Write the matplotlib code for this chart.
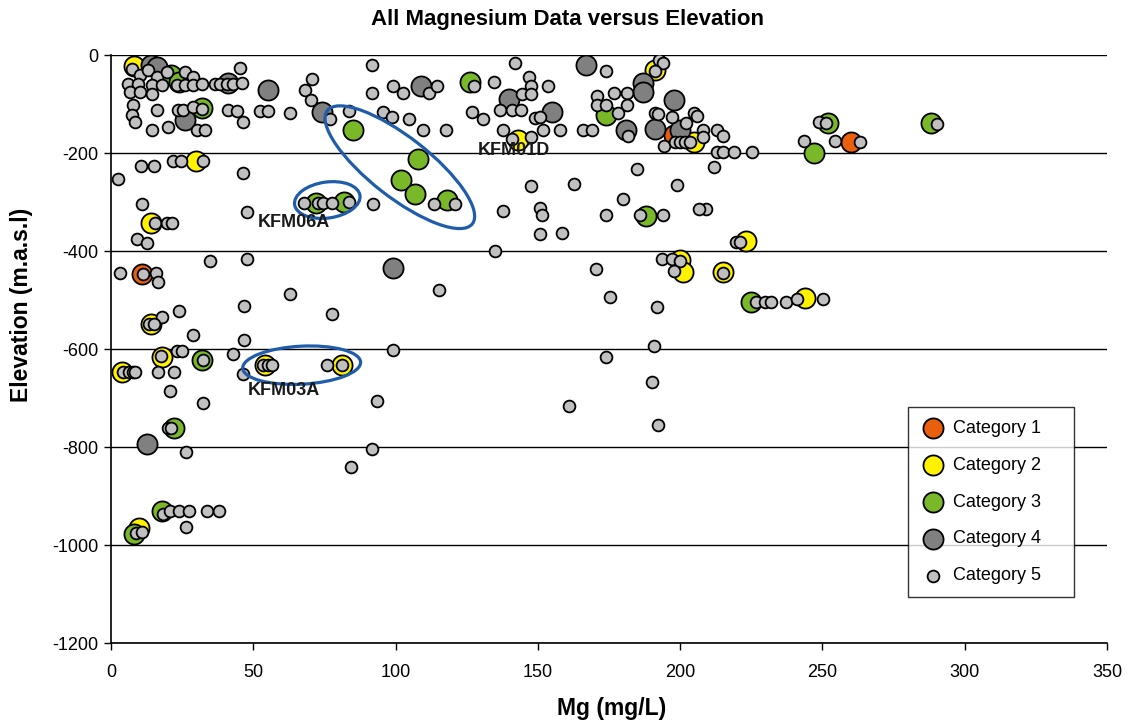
import matplotlib
matplotlib.use('Agg')
import matplotlib.pyplot as plt
from matplotlib.patches import Ellipse
from matplotlib.transforms import ScaledTranslation

plt.rcParams['font.family'] = ['Liberation Sans', 'DejaVu Sans']
plt.rcParams['axes.unicode_minus'] = False

# ---------------- data ----------------
categories = ['Category 1', 'Category 2', 'Category 3', 'Category 4', 'Category 5']

cat1_x = [11, 198, 260]
cat1_y = [-446, -163, -177]

cat2_x = [8, 4, 14, 14, 18, 30, 10, 54, 81, 143, 191, 205, 200, 201, 215, 223, 244]
cat2_y = [-22, -646, -342, -548, -616, -216, -966, -633, -633, -173, -31, -177, -418, -442, -442, -379, -495]

cat3_x = [21, 24, 32, 85, 108, 102, 107, 118, 72, 82, 126, 174, 188, 247, 252, 288, 225, 32, 22, 18, 8]
cat3_y = [-41, -55, -108, -154, -213, -255, -284, -295, -303, -299, -56, -122, -328, -199, -138, -138,
          -505, -622, -761, -931, -978]

cat4_x = [14, 16, 26, 41, 55, 74, 109, 140, 155, 167, 187, 187, 198, 181, 191, 200, 99, 12.5]
cat4_y = [-20, -24, -133, -58, -71, -116, -63, -90, -116, -20, -58, -75, -92, -153, -150, -153, -435, -793]

cat5_x = [
    # top-left cluster
    7.3, 10.2, 13.1, 16.1, 19.6, 26, 28.9, 6.1, 9.6, 14.3, 17.8, 23.1, 26, 28.9, 31.9, 36.5, 38.3, 40.7, 43,
    45.9, 45.3, 6.7, 10.2, 14.3, 7.8, 16.1, 23.6, 25.4, 28.9, 31.9, 41.2, 44.2, 7.3, 8.4, 14.3, 20.1, 30.1,
    33, 46.5, 52.4, 55.3, 62.9, 70.5, 68.2, 70.2, 77, 83.7,
    10.5, 15.2, 21.7, 24.6, 32.4, 2.6, 46.5,
    # top middle
    91.6, 142, 99, 111.7, 114.7, 91.8, 102.5, 127.5, 134.7, 146.9, 147.5, 153.7, 144.5, 147.5, 136.7, 140.8,
    144, 149, 150.7, 95.7, 98.8, 104.7, 127, 130.6, 109.7, 117.7, 137.8, 141, 147.6, 151.9, 157.8, 166, 169.1,
    113.6, 120.9, 92.2, 147.6, 162.8, 137.8, 150.7, 151.5,
    # top right
    173.9, 192.7, 194.1, 191.1, 170.9, 176.9, 181.2, 170.7, 173.9, 181.2, 178, 191.1, 192.3, 197, 204.8, 206,
    181.8, 202, 208.1, 207.9, 212.8, 215.2, 194.4, 198.2, 200, 201.7, 203.5, 212.8, 215.2, 218.9, 225.1,
    243.5, 254.4, 248.9, 251.2, 263.2, 290.4, 184.7, 212, 198.8, 179.8, 209.1, 185.9, 194.1, 173.9,
    # KFM06A area
    67.8, 72.8, 74.6, 77.5, 83.7, 47.7, 10.8,
    # lower left
    15.5, 19.6, 21.3, 9.2, 12.8, 34.8, 47.7, 3.2, 11.1, 15.8, 16.6, 62.9, 46.8, 77.8, 23.9, 17.8, 13.5, 15.2,
    28.7, 46.8, 23.1, 24.8, 17.5, 32.3, 43, 4.3, 6.3, 7.6, 8.6, 16.6, 22.1, 46.3, 53.5, 55.2, 56.6, 75.8, 81,
    20.7, 32.4,
    # middle lower
    150.7, 158.4, 206.8, 135.1, 115.4, 170.4, 175.2, 191.9, 219.5, 221.2, 193.6, 197, 199.8, 198, 214.9,
    226.6, 229.9, 232.1, 237.3, 241, 250.1, 99.1, 173.9, 190.8, 190.2, 93.6, 161, 192.3, 91.6, 84.2,
    # bottom left
    20.1, 21, 26.4, 18.4, 20.7, 23.9, 27.4, 33.6, 37.9, 26.4, 8.8, 10.8,
]
cat5_y = [
    -28, -41, -31, -45, -35, -35, -45, -59, -59, -62, -62, -62, -62, -62, -59, -59, -59, -59, -59,
    -58, -27, -76, -76, -79, -103, -113, -113, -113, -106, -110, -113, -114, -123, -137, -154, -147, -154,
    -154, -136, -114, -114, -119, -48, -71, -92, -131, -115,
    -227, -227, -216, -216, -216, -254, -240,
    -20, -17, -63, -77, -63, -77, -77, -63, -56, -44, -63, -63, -80, -80, -112, -112,
    -112, -129, -127, -116, -127, -131, -116, -131, -154, -154, -154, -171, -168, -154, -154, -154, -154,
    -304, -304, -304, -267, -264, -318, -313, -327,
    -32, -10, -17, -32, -84, -77, -77, -102, -102, -102, -119, -119, -120, -127, -119, -124,
    -165, -138, -154, -167, -154, -165, -186, -177, -177, -177, -177, -197, -197, -197, -197,
    -176, -176, -136, -138, -177, -141, -233, -229, -265, -294, -315, -327, -327, -327,
    -303, -303, -303, -303, -299, -320, -304,
    -342, -342, -342, -376, -384, -420, -417, -444, -446, -444, -463, -488, -512, -529, -522, -534, -548, -548,
    -571, -582, -604, -604, -614, -622, -610, -646, -646, -646, -646, -646, -646, -650, -633, -633, -633, -633, -633,
    -685, -710,
    -366, -363, -314, -399, -480, -437, -493, -515, -381, -381, -417, -417, -420, -441, -444,
    -505, -505, -505, -505, -498, -498, -603, -617, -593, -667, -706, -716, -755, -805, -840,
    -761, -761, -810, -936, -931, -931, -931, -931, -931, -963, -976, -973,
]

annot_labels = ['KFM01D', 'KFM06A', 'KFM03A']
annot_x = [129, 51.5, 48]
annot_y = [-194, -341, -684]

x_ticks = [0, 50, 100, 150, 200, 250, 300, 350]
y_ticks = [0, -200, -400, -600, -800, -1000, -1200]

# ---------------- figure ----------------
W, H = 1132, 722
fig = plt.figure(figsize=(W / 100, H / 100), dpi=100)
ax = fig.add_axes([111 / W, 1 - 643 / H, 996 / W, 588 / H])

colors = ['#EA5F0E', '#FFF200', '#79B829', '#808080', '#C0C0C0']
series = [(cat1_x, cat1_y), (cat2_x, cat2_y), (cat3_x, cat3_y), (cat4_x, cat4_y), (cat5_x, cat5_y)]
sizes = [210, 210, 210, 210, 72]
handles = []
for i, ((xs, ys), c, s, lab) in enumerate(zip(series, colors, sizes, categories)):
    h = ax.scatter(xs, ys, s=s, c=c, edgecolors='black', linewidths=1.3, zorder=3 + i, label=lab)
    handles.append(h)

ax.set_xlim(0, 350)
ax.set_ylim(-1200, 0)
ax.set_xticks(x_ticks)
ax.set_yticks(y_ticks)
ax.tick_params(axis='x', direction='out', length=5, width=1, labelsize=13, pad=10)
ax.tick_params(axis='y', direction='out', length=5, width=1, labelsize=13, pad=4)
ax.yaxis.grid(True, color='black', linewidth=1)
ax.set_axisbelow(True)
for sp in ['top', 'right']:
    ax.spines[sp].set_visible(False)
for sp in ['left', 'bottom']:
    ax.spines[sp].set_linewidth(1.2)
    ax.spines[sp].set_color('black')

# hand-drawn ellipses (pixel sized, centered in data coords)
ell_specs = [((101.5, -229), 184, 60, -38), ((76, -296), 66, 36, 8), ((67, -633), 118, 38, 3)]
for (cx, cy), w, h, ang in ell_specs:
    e = Ellipse((0, 0), w, h, angle=ang, fill=False, edgecolor='#1F5DAA', linewidth=2.3,
                transform=ScaledTranslation(cx, cy, ax.transData), zorder=20, clip_on=False)
    ax.add_artist(e)

for lab, xx, yy in zip(annot_labels, annot_x, annot_y):
    ax.text(xx, yy, lab, fontsize=13, fontweight='bold', color='#1a1a1a', ha='left', va='center', zorder=21)

fig.text(0.501, 1 - 20 / H, 'All Magnesium Data versus Elevation', ha='center', va='center',
         fontsize=16, fontweight='bold')
fig.text(612 / W, 1 - 708 / H, 'Mg (mg/L)', ha='center', va='center', fontsize=16.5, fontweight='bold')
fig.text(22 / W, 1 - 305 / H, 'Elevation (m.a.s.l)', ha='center', va='center', rotation=90,
         fontsize=16.5, fontweight='bold')

leg = ax.legend(handles=handles, loc='upper left', bbox_to_anchor=(0.800, 0.401, 0.167, 0.0),
                mode='expand', fontsize=13, frameon=True, fancybox=False, edgecolor='black',
                borderpad=0.7, labelspacing=1.1, handlelength=1.4, handletextpad=0.4,
                scatterpoints=1, borderaxespad=0)
leg.get_frame().set_linewidth(1.0)
leg.set_zorder(30)

fig.savefig('out.png', dpi=100)
